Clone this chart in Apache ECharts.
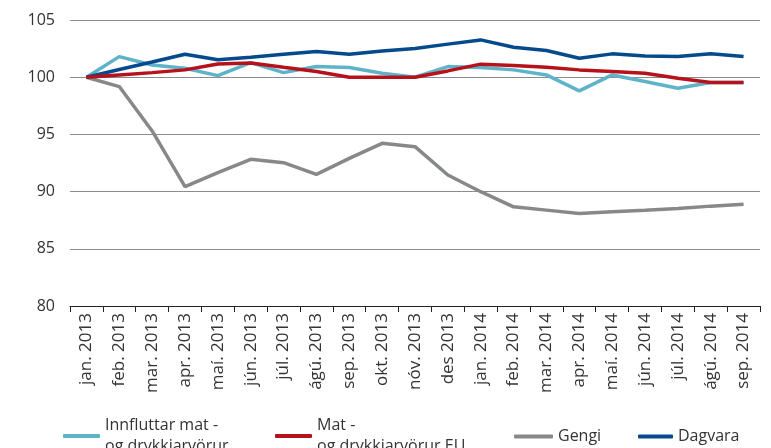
<!DOCTYPE html>
<html>
<head>
<meta charset="utf-8">
<script src="https://cdn.jsdelivr.net/npm/echarts@6/dist/echarts.min.js"></script>
<style>
html,body{margin:0;padding:0;background:#fff;}
#chart{width:771px;height:448px;}
</style>
</head>
<body>
<div id="chart"></div>
<script>
var categories = ['jan. 2013','feb. 2013','mar. 2013','apr. 2013','maí. 2013','jún. 2013','júl. 2013','ágú. 2013','sep. 2013','okt. 2013','nóv. 2013','des 2013','jan. 2014','feb. 2014','mar. 2014','apr. 2014','maí. 2014','jún. 2014','júl. 2014','ágú. 2014','sep. 2014'];
var innfluttar = [100,101.8,101.07,100.78,100.14,101.28,100.4,100.93,100.84,100.35,100.0,100.93,100.84,100.64,100.2,98.8,100.2,99.62,99.04,99.53,99.53];
var matEU = [100,100.2,100.4,100.64,101.16,101.25,100.87,100.5,100,100,100,100.55,101.14,101.02,100.87,100.64,100.5,100.35,99.9,99.53,99.53];
var gengi = [100,99.18,95.3,90.43,91.65,92.82,92.53,91.5,92.9,94.22,93.93,91.45,89.99,88.67,88.38,88.09,88.24,88.38,88.53,88.73,88.9];
var dagvara = [100,100.67,101.33,102.01,101.52,101.75,102.0,102.24,102.01,102.3,102.5,102.89,103.26,102.62,102.33,101.66,102.04,101.86,101.8,102.04,101.8];
var yTicks = {min: 80, max: 105, interval: 5};

var names = ['Innfluttar mat -\nog drykkjarvörur', 'Mat -\nog drykkjarvörur EU', 'Gengi', 'Dagvara'];
var colors = ['#5fb3c9', '#b5121b', '#87888a', '#044a8c'];
var FONT = 'Open Sans';

function mkLegend(name, left, top, w) {
  return {
    data: [name], left: left, top: top, padding: 0,
    icon: 'roundRect', itemWidth: w, itemHeight: 4,
    textStyle: {fontFamily: FONT, fontSize: 16, color: '#333', lineHeight: 21}
  };
}
function mkSeries(i, data, z) {
  return {
    name: names[i], type: 'line', data: data, symbol: 'none', z: z,
    lineStyle: {color: colors[i], width: 3.5},
    itemStyle: {color: colors[i]}
  };
}

var chart = echarts.init(document.getElementById('chart'), null, {renderer: 'canvas'});
chart.setOption({
  animation: false,
  backgroundColor: '#fff',
  grid: {left: 70, right: 11, top: 20, bottom: 142, containLabel: false},
  legend: [
    mkLegend(names[0], 63, 415, 37),
    mkLegend(names[1], 275, 415, 37),
    mkLegend(names[2], 514, 426, 39),
    mkLegend(names[3], 638, 426, 35)
  ],
  xAxis: {
    type: 'category', data: categories, boundaryGap: true,
    axisLine: {lineStyle: {color: '#222', width: 1}},
    axisTick: {show: true, length: 6, lineStyle: {color: '#222'}},
    axisLabel: {rotate: 90, interval: 0, fontFamily: FONT, fontSize: 17, color: '#333', margin: 7}
  },
  yAxis: {
    type: 'value', min: yTicks.min, max: yTicks.max, interval: yTicks.interval,
    axisLine: {show: false}, axisTick: {show: false},
    splitLine: {lineStyle: {color: '#8c8c8c', width: 1}},
    axisLabel: {fontFamily: FONT, fontSize: 16, color: '#333', margin: 15}
  },
  series: [
    mkSeries(0, innfluttar, 2),
    mkSeries(2, gengi, 3),
    mkSeries(3, dagvara, 4),
    mkSeries(1, matEU, 5)
  ]
});
</script>
</body>
</html>
